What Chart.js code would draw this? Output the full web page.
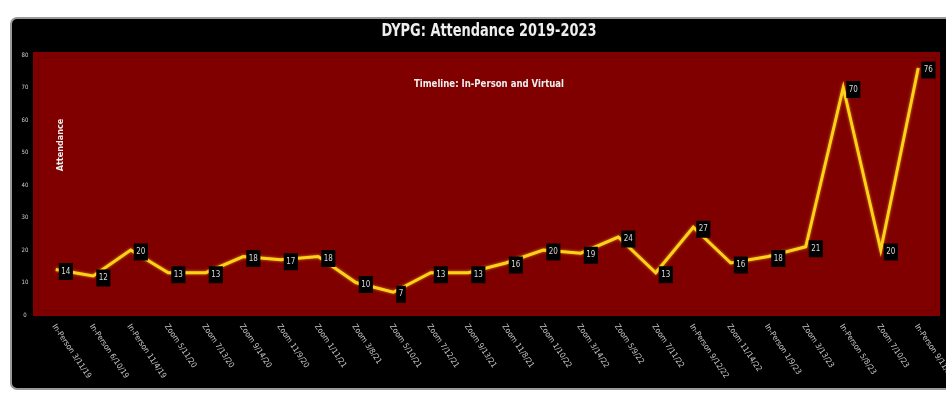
<!DOCTYPE html>
<html>
<head>
<meta charset="utf-8">
<title>DYPG: Attendance 2019-2023</title>
<script src="https://cdn.jsdelivr.net/npm/chart.js@4.4.0/dist/chart.umd.min.js"></script>
<style>
    html, body { margin: 0; padding: 0; background: #fff; width: 946px; height: 395px; overflow: hidden; }
    #frame {
        position: absolute; left: 10px; top: 17px; width: 944px; height: 373px;
        background: #000; border: 2px solid #9a9a9a; border-radius: 7px; box-sizing: border-box;
    }
    #chart { position: absolute; left: 0; top: 0; }
</style>
</head>
<body>
<div id="frame"></div>
<canvas id="chart" width="946" height="395"></canvas>
<script>
// Chart data
const chartTitle = 'DYPG: Attendance 2019-2023';
const subTitle = 'Timeline: In-Person and Virtual';
const axisTitle = 'Attendance';

const meetingLabels = [
    'In-Person 3/11/19', 'In-Person 6/10/19', 'In-Person 11/4/19',
    'Zoom 5/11/20', 'Zoom 7/13/20', 'Zoom 9/14/20', 'Zoom 11/9/20',
    'Zoom 1/11/21', 'Zoom 3/8/21', 'Zoom 5/10/21', 'Zoom 7/12/21',
    'Zoom 9/13/21', 'Zoom 11/8/21', 'Zoom 1/10/22', 'Zoom 3/14/22',
    'Zoom 5/9/22', 'Zoom 7/11/22', 'In-Person 9/12/22', 'Zoom 11/14/22',
    'In-Person 1/9/23', 'Zoom 3/13/23', 'In-Person 5/8/23', 'Zoom 7/10/23',
    'In-Person 9/11/23'
];
const attendance = [14, 12, 20, 13, 13, 18, 17, 18, 10, 7, 13, 13, 16, 20, 19, 24, 13, 27, 16, 18, 21, 70, 20, 76];
const yTicks = [0, 10, 20, 30, 40, 50, 60, 70, 80];

const narrow = '"Liberation Sans Narrow", "DejaVu Sans Condensed", "Roboto Condensed", sans-serif';

// text squeezed horizontally to look like a condensed face
function narrowText(ctx, text, x, y, squeeze) {
    ctx.save();
    ctx.translate(x, y);
    ctx.scale(squeeze, 1);
    ctx.fillText(text, 0, 0);
    ctx.restore();
}

// Draws backgrounds, titles and axis labels
const decorPlugin = {
    id: 'decor',
    beforeDatasetsDraw(chart) {
        const ctx = chart.ctx;
        const area = chart.chartArea;
        const xScale = chart.scales.x;
        const yScale = chart.scales.y;

        ctx.save();
        // red plot background
        ctx.fillStyle = '#800000';
        ctx.fillRect(area.left - 4, area.top - 3, area.right - area.left + 7, area.bottom - area.top + 4);
        ctx.strokeStyle = '#6a0000';
        ctx.lineWidth = 1;
        ctx.strokeRect(area.left + 1.5, area.top + 2.5, area.right - area.left - 3, area.bottom - area.top - 7);

        // chart title
        ctx.fillStyle = '#eeeeee';
        ctx.textAlign = 'center';
        ctx.textBaseline = 'middle';
        ctx.font = 'bold 18px ' + narrow;
        narrowText(ctx, chartTitle, 489, 31, 0.8);

        // subtitle inside plot
        ctx.font = 'bold 10px ' + narrow;
        narrowText(ctx, subTitle, 489, 84, 0.95);

        // axis title inside plot
        ctx.save();
        ctx.translate(61, 145);
        ctx.rotate(-Math.PI / 2);
        ctx.font = 'bold 9px ' + narrow;
        ctx.fillText(axisTitle, 0, 0);
        ctx.restore();

        // y tick labels
        ctx.fillStyle = '#d0d0d0';
        ctx.font = '6px ' + narrow;
        yTicks.forEach(v => {
            ctx.fillText(String(v), 25, yScale.getPixelForValue(v));
        });

        // x tick labels, rotated clockwise
        ctx.fillStyle = '#c4c4c4';
        ctx.font = '8px ' + narrow;
        ctx.textAlign = 'left';
        meetingLabels.forEach((label, i) => {
            const x = xScale.getPixelForValue(i);
            ctx.save();
            ctx.translate(x - 2, 325);
            ctx.rotate(56 * Math.PI / 180);
            ctx.fillText(label, 0, 0);
            ctx.restore();
        });
        ctx.restore();
    },
    afterDatasetsDraw(chart) {
        // value labels in black boxes
        const ctx = chart.ctx;
        const meta = chart.getDatasetMeta(0);
        ctx.save();
        ctx.font = '8px ' + narrow;
        ctx.textAlign = 'center';
        ctx.textBaseline = 'middle';
        meta.data.forEach((pt, i) => {
            const text = String(attendance[i]);
            const w = Math.max(ctx.measureText(text).width + 5, 9);
            const h = 17;
            const left = pt.x + 3;
            const cy = pt.y + 2;
            ctx.fillStyle = '#000';
            ctx.fillRect(left, cy - h / 2, w, h);
            ctx.fillStyle = '#d8d8d8';
            ctx.fillText(text, left + w / 2, cy);
        });
        ctx.restore();
    },
    beforeDatasetDraw(chart) {
        chart.ctx.save();
        chart.ctx.shadowColor = 'rgba(255, 190, 0, 0.7)';
        chart.ctx.shadowBlur = 3;
    },
    afterDatasetDraw(chart) {
        chart.ctx.restore();
    }
};

const ctx = document.getElementById('chart').getContext('2d');
new Chart(ctx, {
    type: 'line',
    data: {
        labels: meetingLabels,
        datasets: [{
            label: axisTitle,
            data: attendance,
            borderColor: '#ffd21a',
            borderWidth: 3,
            pointRadius: 0,
            tension: 0,
            fill: false
        }]
    },
    options: {
        responsive: false,
        devicePixelRatio: 1,
        animation: false,
        layout: {
            padding: { left: 37, top: 55, right: 9, bottom: 80 }
        },
        plugins: {
            legend: { display: false },
            title: { display: false },
            tooltip: { enabled: false }
        },
        scales: {
            x: {
                display: false,
                offset: true
            },
            y: {
                display: false,
                min: 0,
                max: 80
            }
        }
    },
    plugins: [decorPlugin]
});
</script>
</body>
</html>
